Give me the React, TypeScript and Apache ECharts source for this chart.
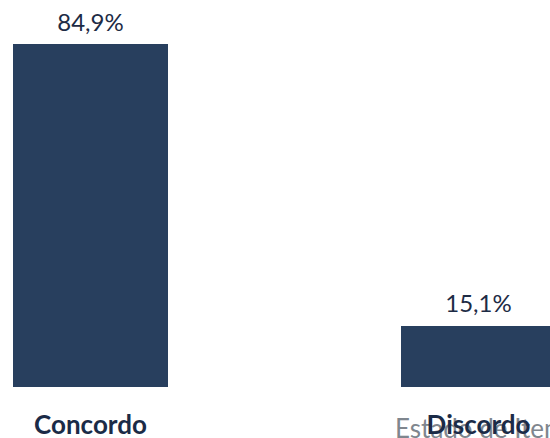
import React, { useEffect, useRef } from "react";
import * as echarts from "echarts";

const categories = ["Concordo", "Discordo"];
const values = [84.9, 15.1];
const footnote = "Estado de Item";

export default function App() {
  const ref = useRef<HTMLDivElement>(null);
  useEffect(() => {
    if (!ref.current) return;
    const chart = echarts.init(ref.current, undefined, { renderer: "svg" });
    chart.setOption({
      animation: false,
      backgroundColor: "#ffffff",
      grid: { left: 90.5, right: 71.5, top: 44, bottom: 51, containLabel: false },
      xAxis: {
        type: "category",
        data: categories,
        boundaryGap: false,
        z: 5,
        axisLine: { show: false },
        axisTick: { show: false },
        splitLine: { show: false },
        axisLabel: {
          margin: 24,
          fontFamily: "Lato",
          fontWeight: "bold",
          fontSize: 26,
          color: "#1b2b47",
          interval: 0,
        },
      },
      yAxis: {
        type: "value",
        min: 0,
        max: "dataMax",
        show: false,
      },
      graphic: [
        {
          type: "text",
          left: 395,
          top: 415,
          z: 0,
          style: {
            text: footnote,
            fontFamily: "Lato",
            fontSize: 26,
            fill: "#7f868e",
          },
        },
      ],
      series: [
        {
          type: "bar",
          data: values,
          barWidth: 155,
          clip: false,
          z: 3,
          itemStyle: { color: "#283f5e" },
          label: {
            show: true,
            position: "top",
            distance: 11,
            fontFamily: "Lato",
            fontSize: 24,
            color: "#1d2b45",
            formatter: (p: any) => p.value.toFixed(1).replace(".", ",") + "%",
          },
        },
      ],
    });
    return () => chart.dispose();
  }, []);
  return (
    <div
      ref={ref}
      style={{ position: "fixed", left: 0, top: 0, width: 550, height: 438 }}
    />
  );
}
